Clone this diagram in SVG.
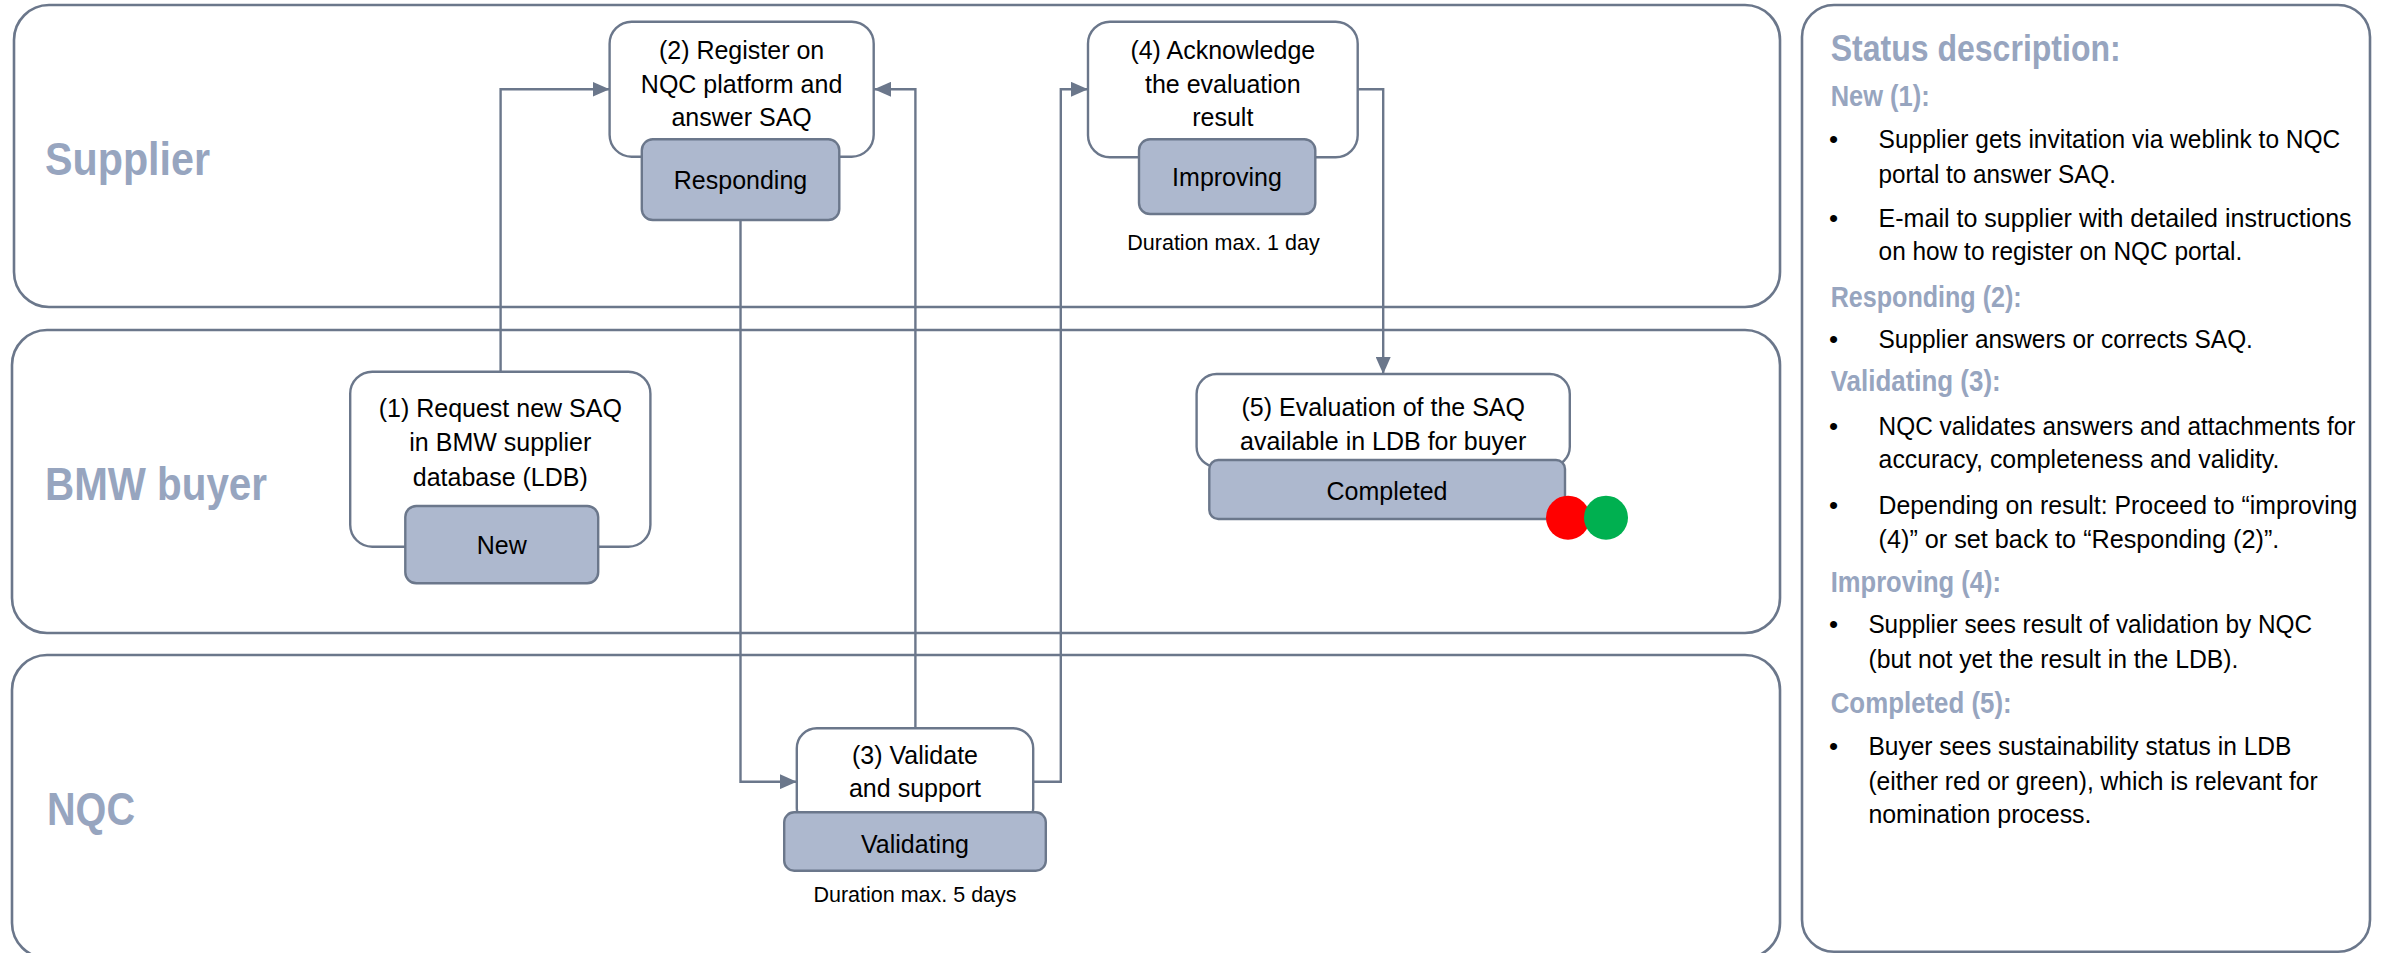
<svg xmlns="http://www.w3.org/2000/svg" width="2381" height="953" viewBox="0 0 2381 953">
<defs>
<style>
.lane{fill:#fff;stroke:#6B778B;stroke-width:2.6}
.box{fill:#fff;stroke:#6B778B;stroke-width:2.4}
.st{fill:#ADB8CE;stroke:#6B778B;stroke-width:2.4}
.conn{fill:none;stroke:#6B778B;stroke-width:2.4}
.lbl{font-family:"Liberation Sans",Arial,sans-serif;font-weight:bold;fill:#97A5BF}
.t{font-family:"Liberation Sans",Arial,sans-serif;font-size:25px;fill:#000;text-anchor:middle}
.d{font-family:"Liberation Sans",Arial,sans-serif;font-size:21.5px;fill:#000;text-anchor:middle}
.h{font-family:"Liberation Sans",Arial,sans-serif;font-weight:bold;font-size:29px;fill:#97A5BF}
.b{font-family:"Liberation Sans",Arial,sans-serif;font-size:26px;fill:#000}
</style>
<marker id="arr" markerUnits="userSpaceOnUse" viewBox="0 0 17 15" markerWidth="17" markerHeight="15" refX="17" refY="7.5" orient="auto">
<path d="M0,0 L17,7.5 L0,15 z" fill="#6B778B"/>
</marker>
</defs>
<rect width="2381" height="953" fill="#fff"/>

<g id="lane-supplier">
<rect class="lane" x="14" y="5" width="1766" height="302" rx="35"/>
<text class="lbl" x="45" y="175" font-size="46" textLength="165" lengthAdjust="spacingAndGlyphs">Supplier</text>
</g>
<g id="lane-bmw">
<rect class="lane" x="12" y="330" width="1768" height="303" rx="35"/>
<text class="lbl" x="45" y="500" font-size="46" textLength="222" lengthAdjust="spacingAndGlyphs">BMW buyer</text>
</g>
<g id="lane-nqc">
<rect class="lane" x="12" y="655" width="1768" height="303" rx="35"/>
<text class="lbl" x="47" y="825" font-size="46" textLength="88" lengthAdjust="spacingAndGlyphs">NQC</text>
</g>

<g id="connectors">
<path class="conn" d="M500.6,371.7 V89.3 H609.6" marker-end="url(#arr)"/>
<path class="conn" d="M740.5,220 V781.7 H796.8" marker-end="url(#arr)"/>
<path class="conn" d="M915.4,728.3 V89.3 H874" marker-end="url(#arr)"/>
<path class="conn" d="M1033.2,781.7 H1060.8 V89.3 H1088" marker-end="url(#arr)"/>
<path class="conn" d="M1357.7,89.3 H1383.2 V374" marker-end="url(#arr)"/>
</g>

<g id="node-1">
<rect class="box" x="350.2" y="371.7" width="300.2" height="175" rx="22"/>
<text class="t" x="500.3" y="416.5">(1) Request new SAQ</text>
<text class="t" x="500.3" y="451">in BMW supplier</text>
<text class="t" x="500.3" y="485.5">database (LDB)</text>
<rect class="st" x="405.3" y="506" width="192.9" height="77.3" rx="11"/>
<text class="t" x="501.7" y="553.5">New</text>
</g>

<g id="node-2">
<rect class="box" x="609.6" y="21.7" width="264.1" height="135" rx="22"/>
<text class="t" x="741.6" y="59.3">(2) Register on</text>
<text class="t" x="741.6" y="92.5">NQC platform and</text>
<text class="t" x="741.6" y="126">answer SAQ</text>
<rect class="st" x="641.8" y="139.3" width="197.5" height="80.7" rx="11"/>
<text class="t" x="740.5" y="188.5">Responding</text>
</g>

<g id="node-3">
<rect class="box" x="796.8" y="728.3" width="236.4" height="100" rx="20"/>
<text class="t" x="915" y="763.5">(3) Validate</text>
<text class="t" x="915" y="797">and support</text>
<rect class="st" x="784.2" y="812.3" width="261.6" height="58.4" rx="10"/>
<text class="t" x="915" y="852.5">Validating</text>
<text class="d" x="915" y="901.5">Duration max. 5 days</text>
</g>

<g id="node-4">
<rect class="box" x="1088" y="21.7" width="269.7" height="135.6" rx="22"/>
<text class="t" x="1222.8" y="59.3">(4) Acknowledge</text>
<text class="t" x="1222.8" y="92.5">the evaluation</text>
<text class="t" x="1222.8" y="126">result</text>
<rect class="st" x="1139" y="139.3" width="176.3" height="74.7" rx="11"/>
<text class="t" x="1227" y="185.5">Improving</text>
<text class="d" x="1223.5" y="249.5">Duration max. 1 day</text>
</g>

<g id="node-5">
<rect class="box" x="1196.6" y="374" width="373.2" height="92.7" rx="20"/>
<text class="t" x="1383.2" y="416">(5) Evaluation of the SAQ</text>
<text class="t" x="1383.2" y="450">available in LDB for buyer</text>
<rect class="st" x="1209.3" y="460" width="355.7" height="59" rx="9"/>
<text class="t" x="1387" y="499.5">Completed</text>
<circle cx="1568" cy="517.7" r="22" fill="#FF0000"/>
<circle cx="1606" cy="517.7" r="22" fill="#00B050"/>
</g>

<g id="status-panel">
<rect class="lane" x="1802" y="5" width="568" height="946.7" rx="32"/>
<text class="lbl" x="1830.7" y="60.7" font-size="37" textLength="290" lengthAdjust="spacingAndGlyphs">Status description:</text>
<text class="h" x="1830.7" y="106" textLength="99" lengthAdjust="spacingAndGlyphs">New (1):</text>
<text class="b" x="1829" y="148.3">•</text>
<text class="b" x="1878.6" y="148.3" textLength="461.7" lengthAdjust="spacingAndGlyphs">Supplier gets invitation via weblink to NQC</text>
<text class="b" x="1878.6" y="182.7" textLength="237.4" lengthAdjust="spacingAndGlyphs">portal to answer SAQ.</text>
<text class="b" x="1829" y="226.7">•</text>
<text class="b" x="1878.6" y="226.7" textLength="473" lengthAdjust="spacingAndGlyphs">E-mail to supplier with detailed instructions</text>
<text class="b" x="1878.6" y="260" textLength="363.7" lengthAdjust="spacingAndGlyphs">on how to register on NQC portal.</text>
<text class="h" x="1830.7" y="306.7" textLength="191" lengthAdjust="spacingAndGlyphs">Responding (2):</text>
<text class="b" x="1829" y="348.3">•</text>
<text class="b" x="1878.6" y="348.3" textLength="374.3" lengthAdjust="spacingAndGlyphs">Supplier answers or corrects SAQ.</text>
<text class="h" x="1830.7" y="390.7" textLength="170" lengthAdjust="spacingAndGlyphs">Validating (3):</text>
<text class="b" x="1829" y="435">•</text>
<text class="b" x="1878.6" y="435" textLength="476.8" lengthAdjust="spacingAndGlyphs">NQC validates answers and attachments for</text>
<text class="b" x="1878.6" y="468.3" textLength="400.7" lengthAdjust="spacingAndGlyphs">accuracy, completeness and validity.</text>
<text class="b" x="1829" y="514.3">•</text>
<text class="b" x="1878.6" y="514.3" textLength="478.7" lengthAdjust="spacingAndGlyphs">Depending on result: Proceed to “improving</text>
<text class="b" x="1878.6" y="548.3" textLength="400.7" lengthAdjust="spacingAndGlyphs">(4)” or set back to “Responding (2)”.</text>
<text class="h" x="1830.7" y="591.7" textLength="170.4" lengthAdjust="spacingAndGlyphs">Improving (4):</text>
<text class="b" x="1829" y="633.3">•</text>
<text class="b" x="1868.4" y="633.3" textLength="443.6" lengthAdjust="spacingAndGlyphs">Supplier sees result of validation by NQC</text>
<text class="b" x="1868.4" y="668.3" textLength="370" lengthAdjust="spacingAndGlyphs">(but not yet the result in the LDB).</text>
<text class="h" x="1830.7" y="713.3" textLength="181" lengthAdjust="spacingAndGlyphs">Completed (5):</text>
<text class="b" x="1829" y="755">•</text>
<text class="b" x="1868.4" y="755" textLength="423" lengthAdjust="spacingAndGlyphs">Buyer sees sustainability status in LDB</text>
<text class="b" x="1868.4" y="790" textLength="449.3" lengthAdjust="spacingAndGlyphs">(either red or green), which is relevant for</text>
<text class="b" x="1868.4" y="823.3" textLength="223.1" lengthAdjust="spacingAndGlyphs">nomination process.</text>
</g>
</svg>
